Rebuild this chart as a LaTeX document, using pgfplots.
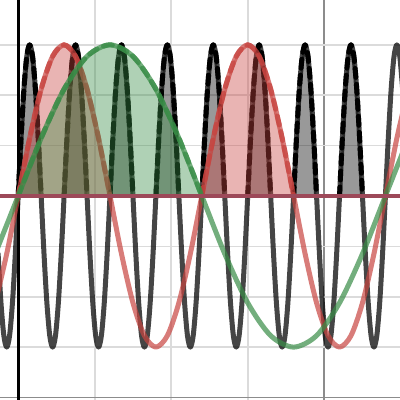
\documentclass[border=0pt]{standalone}
\usepackage{pgfplots}
\pgfplotsset{compat=1.18}
\definecolor{dred}{RGB}{199,68,64}
\definecolor{dgreen}{RGB}{56,140,70}
\definecolor{maroonline}{RGB}{157,73,89}
\tikzset{
  bfill/.style={smooth, draw=none, fill=black, fill opacity=0.4},
  bdash/.style={smooth, draw=black, line width=5bp, dash pattern=on 9bp off 7bp},
  rfill/.style={smooth, draw=none, fill=dred, fill opacity=0.4},
  rdash/.style={smooth, draw=dred, draw opacity=0.75, line width=5bp, dash pattern=on 9bp off 7bp},
  gfill/.style={smooth, draw=none, fill=dgreen, fill opacity=0.4},
  gdash/.style={smooth, draw=dgreen, draw opacity=0.75, line width=5bp, dash pattern=on 9bp off 7bp},
}
\begin{document}
\begin{tikzpicture}
\begin{axis}[
  width=400bp, height=400bp, scale only axis,
  xmin=-6.34, xmax=133.08, ymin=-4.05, ymax=3.89,
  axis line style={draw=none},
  major tick length=0pt, minor tick length=0pt,
  xticklabels={}, yticklabels={},
  xtick={106.667}, minor xtick={26.667,53.333,80},
  ytick={-4}, minor ytick={-3,-2,-1,1,2,3},
  grid=both,
  major grid style={draw=black!45, line width=1.6bp},
  minor grid style={draw=black!14, line width=1.6bp},
  clip=true,
  every axis plot/.append style={line cap=round, line join=round},
]
% axes
\addplot[black, line width=3bp] coordinates {(0,-5) (0,5)};
\addplot[black, line width=2bp] coordinates {(-10,0) (140,0)};

% ---------- black curve ----------
\addplot[bfill] coordinates {(0,0) (1,1.148) (2,2.121) (3,2.772) (4,3) (5,2.772) (6,2.121) (7,1.148) (8,0)};
\addplot[bfill] coordinates {(16,0) (17,1.148) (18,2.121) (19,2.772) (20,3) (21,2.772) (22,2.121) (23,1.148) (24,0)};
\addplot[bfill] coordinates {(32,0) (33,1.148) (34,2.121) (35,2.772) (36,3) (37,2.772) (38,2.121) (39,1.148) (40,0)};
\addplot[bfill] coordinates {(48,0) (49,1.148) (50,2.121) (51,2.772) (52,3) (53,2.772) (54,2.121) (55,1.148) (56,0)};
\addplot[bfill] coordinates {(64,0) (65,1.148) (66,2.121) (67,2.772) (68,3) (69,2.772) (70,2.121) (71,1.148) (72,0)};
\addplot[bfill] coordinates {(80,0) (81,1.148) (82,2.121) (83,2.772) (84,3) (85,2.772) (86,2.121) (87,1.148) (88,0)};
\addplot[bfill] coordinates {(96,0) (97,1.148) (98,2.121) (99,2.772) (100,3) (101,2.772) (102,2.121) (103,1.148) (104,0)};
\addplot[bfill] coordinates {(112,0) (113,1.148) (114,2.121) (115,2.772) (116,3) (117,2.772) (118,2.121) (119,1.148) (120,0)};

\addplot[smooth, black, draw opacity=0.73, line width=5bp] coordinates {
(-7,-1.148) (-6,-2.121) (-5,-2.772) (-4,-3) (-3,-2.772) (-2,-2.121) (-1,-1.148)
(0,0) (1,1.148) (2,2.121) (3,2.772) (4,3) (5,2.772) (6,2.121) (7,1.148) (8,0) (9,-1.148) (10,-2.121) (11,-2.772) (12,-3) (13,-2.772) (14,-2.121) (15,-1.148)
(16,0) (17,1.148) (18,2.121) (19,2.772) (20,3) (21,2.772) (22,2.121) (23,1.148) (24,0) (25,-1.148) (26,-2.121) (27,-2.772) (28,-3) (29,-2.772) (30,-2.121) (31,-1.148)
(32,0) (33,1.148) (34,2.121) (35,2.772) (36,3) (37,2.772) (38,2.121) (39,1.148) (40,0) (41,-1.148) (42,-2.121) (43,-2.772) (44,-3) (45,-2.772) (46,-2.121) (47,-1.148)
(48,0) (49,1.148) (50,2.121) (51,2.772) (52,3) (53,2.772) (54,2.121) (55,1.148) (56,0) (57,-1.148) (58,-2.121) (59,-2.772) (60,-3) (61,-2.772) (62,-2.121) (63,-1.148)
(64,0) (65,1.148) (66,2.121) (67,2.772) (68,3) (69,2.772) (70,2.121) (71,1.148) (72,0) (73,-1.148) (74,-2.121) (75,-2.772) (76,-3) (77,-2.772) (78,-2.121) (79,-1.148)
(80,0) (81,1.148) (82,2.121) (83,2.772) (84,3) (85,2.772) (86,2.121) (87,1.148) (88,0) (89,-1.148) (90,-2.121) (91,-2.772) (92,-3) (93,-2.772) (94,-2.121) (95,-1.148)
(96,0) (97,1.148) (98,2.121) (99,2.772) (100,3) (101,2.772) (102,2.121) (103,1.148) (104,0) (105,-1.148) (106,-2.121) (107,-2.772) (108,-3) (109,-2.772) (110,-2.121) (111,-1.148)
(112,0) (113,1.148) (114,2.121) (115,2.772) (116,3) (117,2.772) (118,2.121) (119,1.148) (120,0) (121,-1.148) (122,-2.121) (123,-2.772) (124,-3) (125,-2.772) (126,-2.121) (127,-1.148)
(128,0) (129,1.148) (130,2.121) (131,2.772) (132,3) (133,2.772) (134,2.121)
};

\addplot[bdash] coordinates {(0,0) (1,1.148) (2,2.121) (3,2.772) (4,3) (5,2.772) (6,2.121) (7,1.148) (8,0)};
\addplot[bdash] coordinates {(16,0) (17,1.148) (18,2.121) (19,2.772) (20,3) (21,2.772) (22,2.121) (23,1.148) (24,0)};
\addplot[bdash] coordinates {(32,0) (33,1.148) (34,2.121) (35,2.772) (36,3) (37,2.772) (38,2.121) (39,1.148) (40,0)};
\addplot[bdash] coordinates {(48,0) (49,1.148) (50,2.121) (51,2.772) (52,3) (53,2.772) (54,2.121) (55,1.148) (56,0)};
\addplot[bdash] coordinates {(64,0) (65,1.148) (66,2.121) (67,2.772) (68,3) (69,2.772) (70,2.121) (71,1.148) (72,0)};
\addplot[bdash] coordinates {(80,0) (81,1.148) (82,2.121) (83,2.772) (84,3) (85,2.772) (86,2.121) (87,1.148) (88,0)};
\addplot[bdash] coordinates {(96,0) (97,1.148) (98,2.121) (99,2.772) (100,3) (101,2.772) (102,2.121) (103,1.148) (104,0)};
\addplot[bdash] coordinates {(112,0) (113,1.148) (114,2.121) (115,2.772) (116,3) (117,2.772) (118,2.121) (119,1.148) (120,0)};

% ---------- red curve ----------
\addplot[rfill] coordinates {(0,0) (4,1.148) (8,2.121) (12,2.772) (16,3) (20,2.772) (24,2.121) (28,1.148) (32,0)};
\addplot[rfill] coordinates {(64,0) (68,1.148) (72,2.121) (76,2.772) (80,3) (84,2.772) (88,2.121) (92,1.148) (96,0)};

\addplot[smooth, dred, draw opacity=0.7, line width=5bp] coordinates {
(-8,-2.121) (-4,-1.148) (0,0) (4,1.148) (8,2.121) (12,2.772) (16,3) (20,2.772) (24,2.121) (28,1.148)
(32,0) (36,-1.148) (40,-2.121) (44,-2.772) (48,-3) (52,-2.772) (56,-2.121) (60,-1.148)
(64,0) (68,1.148) (72,2.121) (76,2.772) (80,3) (84,2.772) (88,2.121) (92,1.148)
(96,0) (100,-1.148) (104,-2.121) (108,-2.772) (112,-3) (116,-2.772) (120,-2.121) (124,-1.148)
(128,0) (132,1.148) (136,2.121)
};

\addplot[rdash] coordinates {(0,0) (4,1.148) (8,2.121) (12,2.772) (16,3) (20,2.772) (24,2.121) (28,1.148) (32,0)};
\addplot[rdash] coordinates {(64,0) (68,1.148) (72,2.121) (76,2.772) (80,3) (84,2.772) (88,2.121) (92,1.148) (96,0)};

% ---------- green curve ----------
\addplot[gfill] coordinates {(0,0) (8,1.148) (16,2.121) (24,2.772) (32,3) (40,2.772) (48,2.121) (56,1.148) (64,0)};

\addplot[smooth, dgreen, draw opacity=0.7, line width=5bp] coordinates {
(-8,-1.148) (0,0) (8,1.148) (16,2.121) (24,2.772) (32,3) (40,2.772) (48,2.121) (56,1.148)
(64,0) (72,-1.148) (80,-2.121) (88,-2.772) (96,-3) (104,-2.772) (112,-2.121) (120,-1.148)
(128,0) (136,1.148)
};

\addplot[gdash] coordinates {(0,0) (8,1.148) (16,2.121) (24,2.772) (32,3) (40,2.772) (48,2.121) (56,1.148) (64,0)};

% ---------- y = 0 line ----------
\addplot[maroonline, line width=4.5bp, line cap=butt] coordinates {(-10,0) (140,0)};
\end{axis}
\pgfresetboundingbox
\path[use as bounding box] (0,0) rectangle (400bp,400bp);
\end{tikzpicture}
\end{document}
